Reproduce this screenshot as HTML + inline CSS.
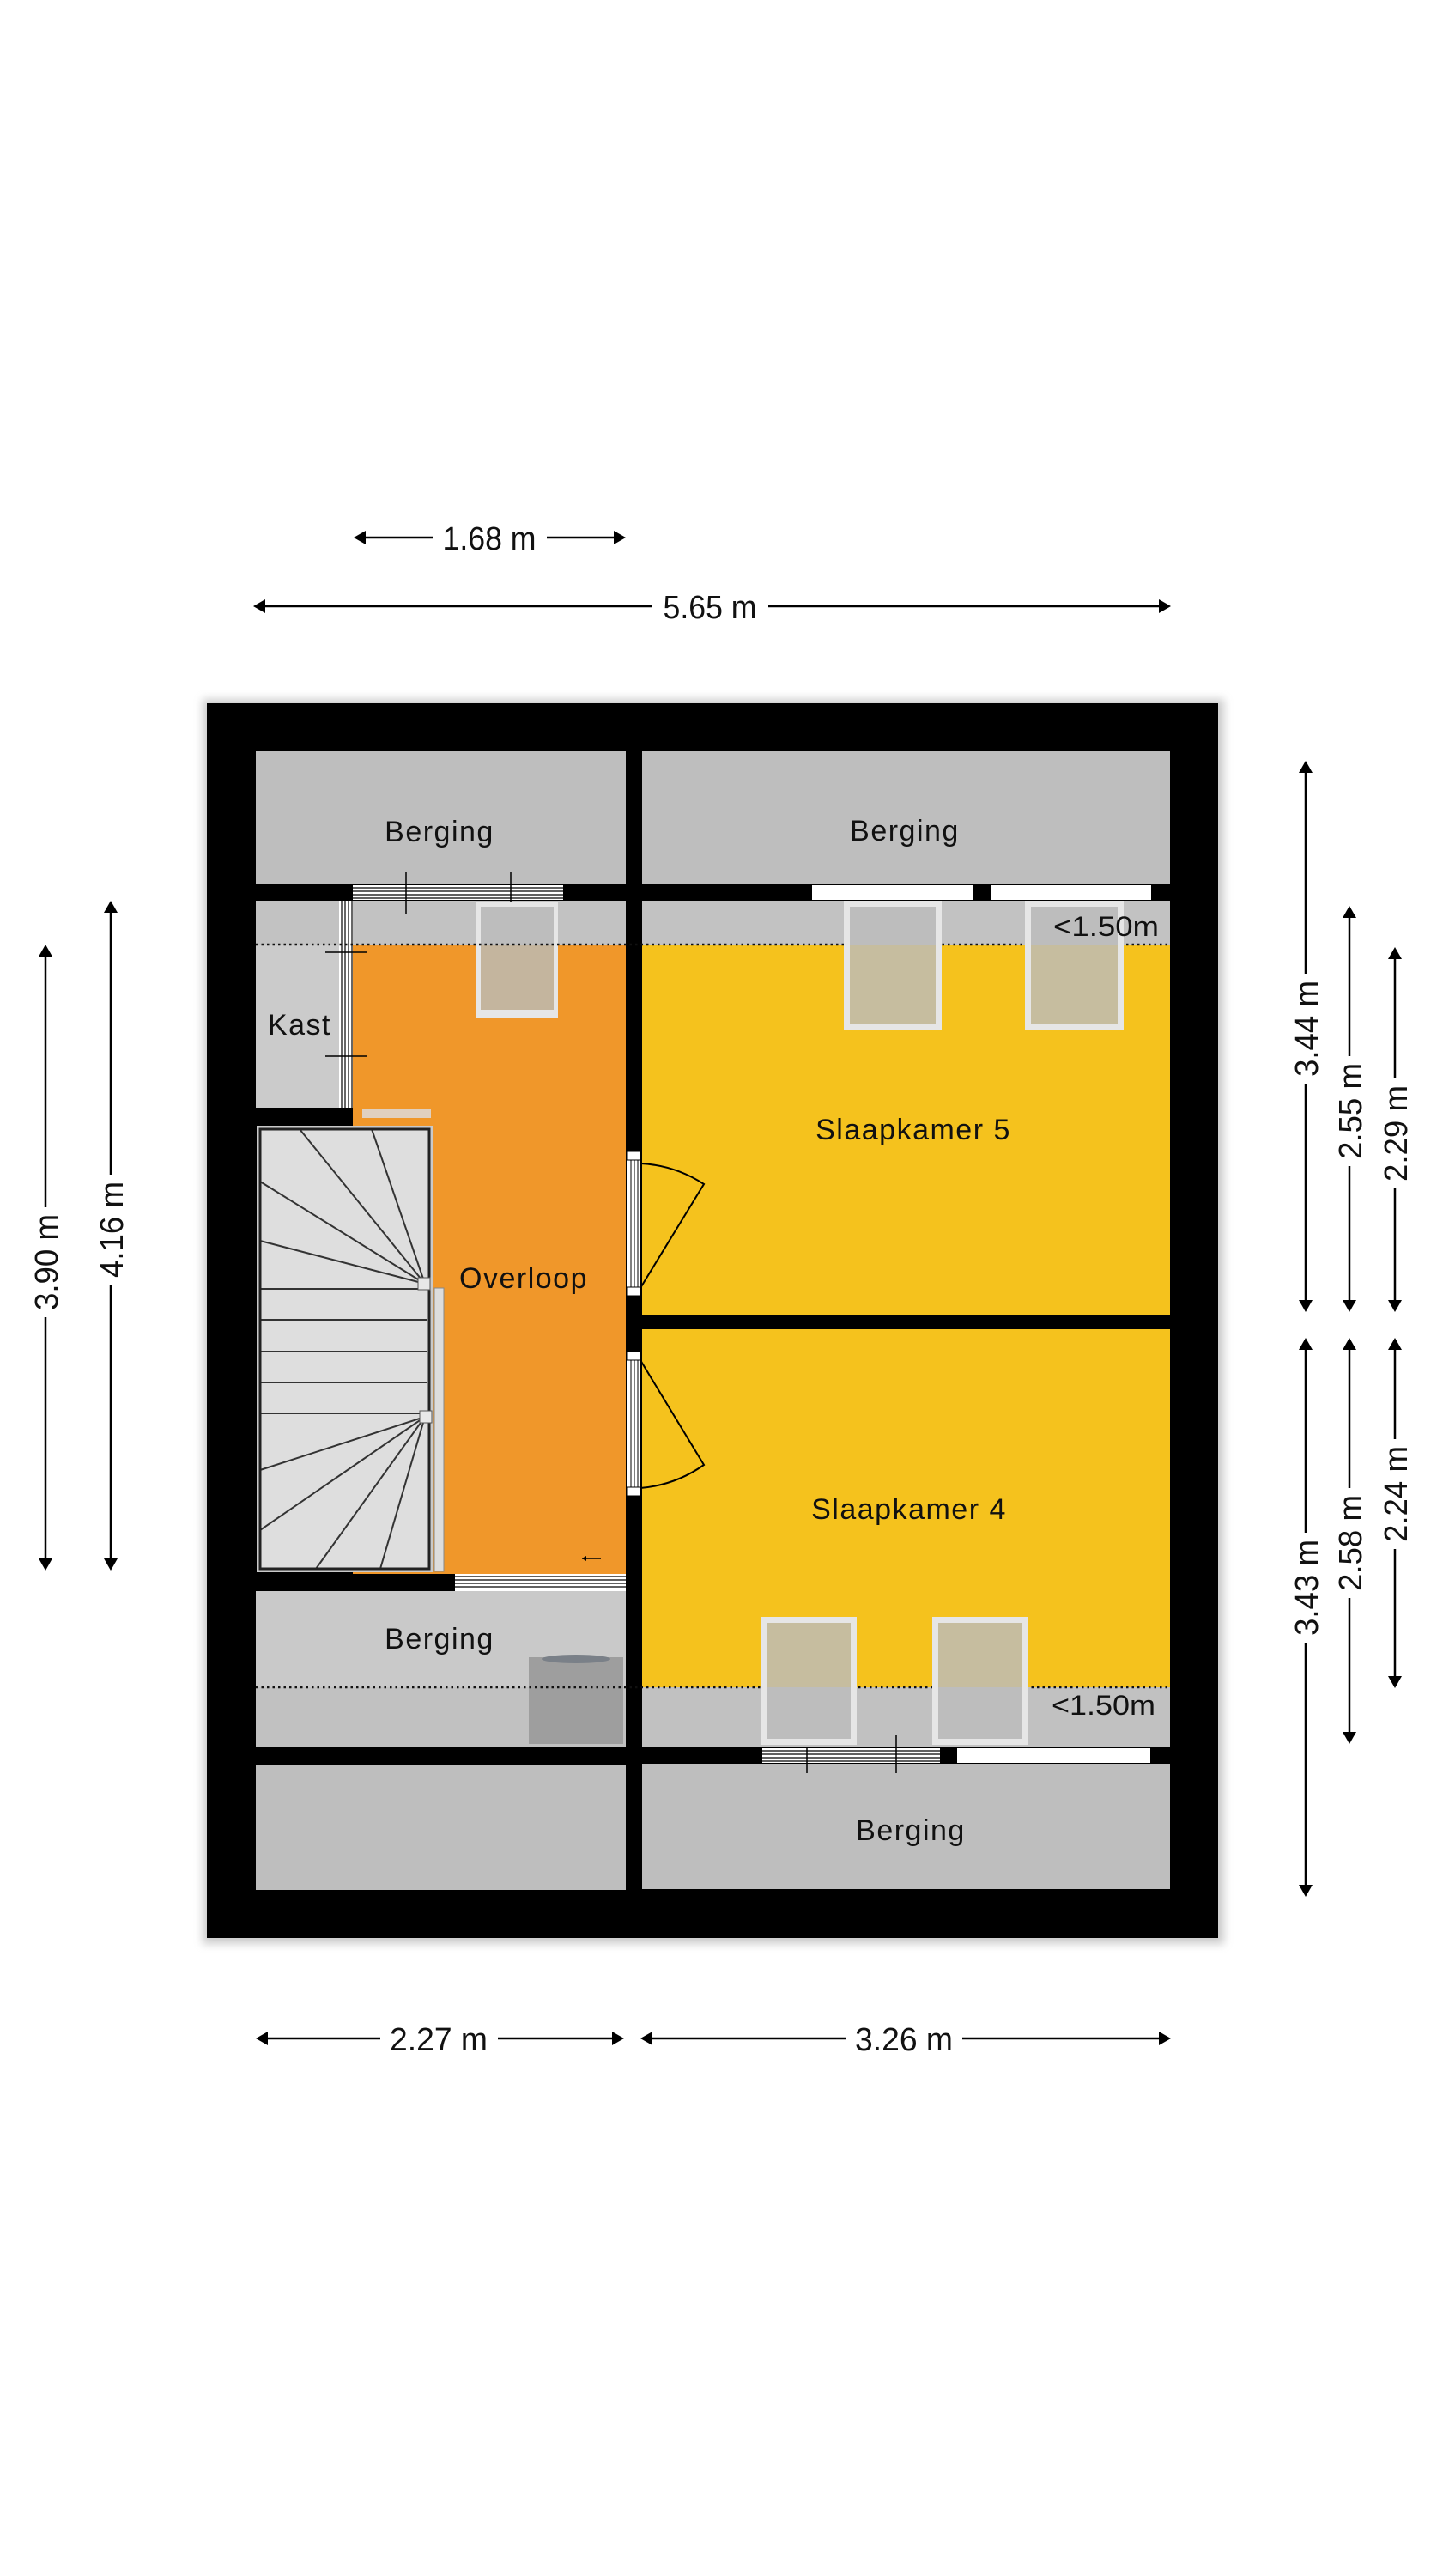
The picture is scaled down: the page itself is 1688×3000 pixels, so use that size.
<!DOCTYPE html>
<html><head><meta charset="utf-8"><style>
html,body{margin:0;padding:0;background:#fff;}
svg{display:block;}
text{font-family:"Liberation Sans",sans-serif;fill:#111;}
</style></head><body>
<svg width="1688" height="3000" viewBox="0 0 1688 3000" xmlns="http://www.w3.org/2000/svg">
<defs>
<filter id="sh" x="-5%" y="-5%" width="110%" height="110%"><feGaussianBlur stdDeviation="5"/></filter>
</defs>
<rect width="1688" height="3000" fill="#fff"/>
<rect x="236" y="814" width="1190" height="1450" fill="#aaa" filter="url(#sh)" opacity="0.6"/>
<rect x="241" y="819" width="1178" height="1438" fill="#000"/>
<rect x="298" y="875" width="431" height="155" fill="#bebebe"/>
<rect x="748" y="875" width="615" height="155" fill="#bebebe"/>
<rect x="298" y="1049" width="431" height="51" fill="#c2c2c2"/>
<rect x="298" y="1100" width="97" height="190" fill="#cbcbcb"/>
<rect x="411" y="1100" width="318" height="733" fill="#f0972a"/>
<rect x="395" y="1049" width="16" height="241" fill="#fff"/>
<line x1="398" y1="1049" x2="398" y2="1290" stroke="#000" stroke-width="1.2"/>
<line x1="402" y1="1049" x2="402" y2="1290" stroke="#000" stroke-width="1.2"/>
<line x1="406" y1="1049" x2="406" y2="1290" stroke="#000" stroke-width="1.2"/>
<line x1="410" y1="1049" x2="410" y2="1290" stroke="#000" stroke-width="1.2"/>
<line x1="379" y1="1109" x2="428" y2="1109" stroke="#000" stroke-width="1.5"/>
<line x1="379" y1="1230" x2="428" y2="1230" stroke="#000" stroke-width="1.5"/>
<rect x="298" y="1290" width="113" height="20" fill="#000"/>
<rect x="411" y="1031" width="245" height="17" fill="#fff"/>
<g stroke="#000" stroke-width="1.2"><line x1="411" y1="1034" x2="656" y2="1034"/><line x1="411" y1="1038" x2="656" y2="1038"/><line x1="411" y1="1042" x2="656" y2="1042"/><line x1="411" y1="1046" x2="656" y2="1046"/></g>
<line x1="473" y1="1015" x2="473" y2="1064" stroke="#000" stroke-width="1.5"/>
<line x1="595" y1="1015" x2="595" y2="1064" stroke="#000" stroke-width="1.5"/>
<rect x="555" y="1050" width="95" height="135" fill="#e6e6e6"/>
<rect x="560" y="1056" width="85" height="44" fill="#bdbdbd"/>
<rect x="560" y="1100" width="85" height="76" fill="#c4b59e"/>
<rect x="299" y="1311" width="205" height="520" fill="#c9c9c9"/>
<rect x="303" y="1315" width="197" height="512" fill="#dedede"/>
<g stroke="#333" stroke-width="2" fill="none">
<line x1="495" y1="1495" x2="349" y2="1315"/>
<line x1="495" y1="1495" x2="433" y2="1315"/>
<line x1="495" y1="1495" x2="303" y2="1376"/>
<line x1="495" y1="1495" x2="303" y2="1445"/>
<line x1="303" y1="1501" x2="498" y2="1501"/>
<line x1="303" y1="1537" x2="498" y2="1537"/>
<line x1="303" y1="1574" x2="498" y2="1574"/>
<line x1="303" y1="1610" x2="498" y2="1610"/>
<line x1="303" y1="1646" x2="498" y2="1646"/>
<line x1="495" y1="1650" x2="303" y2="1712"/>
<line x1="495" y1="1650" x2="303" y2="1782"/>
<line x1="495" y1="1650" x2="368" y2="1827"/>
<line x1="495" y1="1650" x2="443" y2="1827"/>
</g>
<rect x="303" y="1315" width="197" height="512" fill="none" stroke="#222" stroke-width="3"/>
<rect x="487" y="1488" width="14" height="14" fill="#e8e8e8" stroke="#555"/>
<rect x="489" y="1643" width="14" height="14" fill="#e8e8e8" stroke="#555"/>
<rect x="506" y="1500" width="11" height="330" fill="#ddd" stroke="#888"/>
<rect x="422" y="1292" width="80" height="10" fill="#e0d0c0"/>
<rect x="298" y="1833" width="232" height="20" fill="#000"/>
<rect x="530" y="1833" width="199" height="20" fill="#fff"/>
<g stroke="#000" stroke-width="1.2"><line x1="530" y1="1836" x2="729" y2="1836"/><line x1="530" y1="1840" x2="729" y2="1840"/><line x1="530" y1="1844" x2="729" y2="1844"/><line x1="530" y1="1848" x2="729" y2="1848"/></g>
<line x1="678" y1="1815" x2="700" y2="1815" stroke="#000" stroke-width="1.5"/>
<path d="M678 1815 l5 -3 v6 z" fill="#000"/>
<rect x="298" y="1853" width="431" height="112" fill="#c9c9c9"/>
<rect x="298" y="1965" width="431" height="69" fill="#c1c1c1"/>
<rect x="616" y="1930" width="110" height="101" fill="#9e9e9e"/>
<ellipse cx="671" cy="1932" rx="40" ry="5" fill="#7a8088"/>
<rect x="298" y="2055" width="431" height="146" fill="#bebebe"/>
<rect x="748" y="1049" width="615" height="51" fill="#c2c2c2"/>
<rect x="748" y="1100" width="615" height="431" fill="#f5c21d"/>
<rect x="748" y="1548" width="615" height="417" fill="#f5c21d"/>
<rect x="748" y="1965" width="615" height="70" fill="#c1c1c1"/>
<rect x="748" y="2054" width="615" height="146" fill="#bebebe"/>
<line x1="298" y1="1100" x2="1363" y2="1100" stroke="#111" stroke-width="2.5" stroke-dasharray="2.5 4"/>
<line x1="298" y1="1965" x2="1363" y2="1965" stroke="#111" stroke-width="2.5" stroke-dasharray="2.5 4"/>
<rect x="946" y="1031" width="188" height="17" fill="#fff"/>
<rect x="1154" y="1031" width="187" height="17" fill="#fff"/>
<rect x="983" y="1049" width="114" height="151" fill="#e6e6e6"/>
<rect x="990" y="1056" width="100" height="44" fill="#bdbdbd"/>
<rect x="990" y="1100" width="100" height="93" fill="#c6bd9f"/>
<rect x="1194" y="1049" width="115" height="151" fill="#e6e6e6"/>
<rect x="1201" y="1056" width="101" height="44" fill="#bdbdbd"/>
<rect x="1201" y="1100" width="101" height="93" fill="#c6bd9f"/>
<rect x="886" y="1883" width="112" height="149" fill="#e6e6e6"/>
<rect x="893" y="1890" width="98" height="75" fill="#c6bd9f"/>
<rect x="893" y="1965" width="98" height="60" fill="#bdbdbd"/>
<rect x="1086" y="1883" width="112" height="149" fill="#e6e6e6"/>
<rect x="1093" y="1890" width="98" height="75" fill="#c6bd9f"/>
<rect x="1093" y="1965" width="98" height="60" fill="#bdbdbd"/>
<rect x="888" y="2036" width="207" height="17" fill="#fff"/>
<g stroke="#000" stroke-width="1.2"><line x1="888" y1="2039" x2="1095" y2="2039"/><line x1="888" y1="2043" x2="1095" y2="2043"/><line x1="888" y1="2047" x2="1095" y2="2047"/><line x1="888" y1="2051" x2="1095" y2="2051"/></g>
<line x1="940" y1="2035" x2="940" y2="2065" stroke="#000" stroke-width="1.5"/>
<line x1="1044" y1="2020" x2="1044" y2="2065" stroke="#000" stroke-width="1.5"/>
<rect x="1115" y="2036" width="225" height="17" fill="#fff"/>
<rect x="731" y="1341" width="15" height="168" fill="#fff"/>
<g stroke="#000" stroke-width="1"><line x1="735" y1="1351" x2="735" y2="1499"/><line x1="739" y1="1351" x2="739" y2="1499"/><line x1="743" y1="1351" x2="743" y2="1499"/></g>
<rect x="731" y="1341" width="15" height="10" fill="#fff" stroke="#000" stroke-width="1"/>
<rect x="731" y="1499" width="15" height="10" fill="#fff" stroke="#000" stroke-width="1"/>
<path d="M746 1355 A150 150 0 0 1 820 1379 L746 1500" fill="none" stroke="#000" stroke-width="2"/>
<rect x="731" y="1574" width="15" height="168" fill="#fff"/>
<g stroke="#000" stroke-width="1"><line x1="735" y1="1584" x2="735" y2="1732"/><line x1="739" y1="1584" x2="739" y2="1732"/><line x1="743" y1="1584" x2="743" y2="1732"/></g>
<rect x="731" y="1574" width="15" height="10" fill="#fff" stroke="#000" stroke-width="1"/>
<rect x="731" y="1732" width="15" height="10" fill="#fff" stroke="#000" stroke-width="1"/>
<path d="M746 1584 L820 1706 A150 150 0 0 1 746 1733" fill="none" stroke="#000" stroke-width="2"/>
<g font-size="34" letter-spacing="1.5" text-anchor="middle">
<text x="512" y="980">Berging</text>
<text x="1054" y="979">Berging</text>
<text x="349" y="1205">Kast</text>
<text x="610" y="1500">Overloop</text>
<text x="1064" y="1327">Slaapkamer 5</text>
<text x="1059" y="1769">Slaapkamer 4</text>
<text x="512" y="1920">Berging</text>
<text x="1061" y="2143">Berging</text>
</g>
<text x="1227" y="1090" font-size="32" textLength="123" lengthAdjust="spacingAndGlyphs">&lt;1.50m</text>
<text x="1225" y="1997" font-size="32" textLength="121" lengthAdjust="spacingAndGlyphs">&lt;1.50m</text>
<g stroke="#000" stroke-width="2.5" fill="none">
<line x1="420" y1="626" x2="504" y2="626"/><line x1="637" y1="626" x2="721" y2="626"/>
<line x1="303" y1="706" x2="760" y2="706"/><line x1="895" y1="706" x2="1356" y2="706"/>
<line x1="306" y1="2374" x2="443" y2="2374"/><line x1="580" y1="2374" x2="719" y2="2374"/>
<line x1="754" y1="2374" x2="985" y2="2374"/><line x1="1121" y1="2374" x2="1356" y2="2374"/>
<line x1="53" y1="1108" x2="53" y2="1406"/><line x1="53" y1="1534" x2="53" y2="1821"/>
<line x1="129" y1="1057" x2="129" y2="1368"/><line x1="129" y1="1496" x2="129" y2="1821"/>
<line x1="1521" y1="894" x2="1521" y2="1134"/><line x1="1521" y1="1262" x2="1521" y2="1520"/>
<line x1="1521" y1="1566" x2="1521" y2="1785"/><line x1="1521" y1="1913" x2="1521" y2="2201"/>
<line x1="1572" y1="1063" x2="1572" y2="1230"/><line x1="1572" y1="1358" x2="1572" y2="1520"/>
<line x1="1572" y1="1566" x2="1572" y2="1733"/><line x1="1572" y1="1861" x2="1572" y2="2023"/>
<line x1="1625" y1="1111" x2="1625" y2="1256"/><line x1="1625" y1="1384" x2="1625" y2="1520"/>
<line x1="1625" y1="1566" x2="1625" y2="1676"/><line x1="1625" y1="1804" x2="1625" y2="1958"/>
</g>
<g fill="#000">
<path d="M412 626 l14 -8 v16z"/><path d="M729 626 l-14 -8 v16z"/>
<path d="M295 706 l14 -8 v16z"/><path d="M1364 706 l-14 -8 v16z"/>
<path d="M298 2374 l14 -8 v16z"/><path d="M727 2374 l-14 -8 v16z"/>
<path d="M746 2374 l14 -8 v16z"/><path d="M1364 2374 l-14 -8 v16z"/>
<path d="M53 1100 l-8 14 h16z"/><path d="M53 1829 l-8 -14 h16z"/>
<path d="M129 1049 l-8 14 h16z"/><path d="M129 1829 l-8 -14 h16z"/>
<path d="M1521 886 l-8 14 h16z"/><path d="M1521 1528 l-8 -14 h16z"/>
<path d="M1521 1558 l-8 14 h16z"/><path d="M1521 2209 l-8 -14 h16z"/>
<path d="M1572 1055 l-8 14 h16z"/><path d="M1572 1528 l-8 -14 h16z"/>
<path d="M1572 1558 l-8 14 h16z"/><path d="M1572 2031 l-8 -14 h16z"/>
<path d="M1625 1103 l-8 14 h16z"/><path d="M1625 1528 l-8 -14 h16z"/>
<path d="M1625 1558 l-8 14 h16z"/><path d="M1625 1966 l-8 -14 h16z"/>
</g>
<g font-size="38" text-anchor="middle">
<text x="570" y="640" textLength="109" lengthAdjust="spacingAndGlyphs">1.68 m</text>
<text x="827" y="720" textLength="109" lengthAdjust="spacingAndGlyphs">5.65 m</text>
<text x="511" y="2388" textLength="114" lengthAdjust="spacingAndGlyphs">2.27 m</text>
<text x="1053" y="2388" textLength="114" lengthAdjust="spacingAndGlyphs">3.26 m</text>
<text transform="translate(67 1470) rotate(-90)" textLength="112" lengthAdjust="spacingAndGlyphs">3.90 m</text>
<text transform="translate(143 1432) rotate(-90)" textLength="112" lengthAdjust="spacingAndGlyphs">4.16 m</text>
<text transform="translate(1535 1198) rotate(-90)" textLength="112" lengthAdjust="spacingAndGlyphs">3.44 m</text>
<text transform="translate(1586 1294) rotate(-90)" textLength="112" lengthAdjust="spacingAndGlyphs">2.55 m</text>
<text transform="translate(1639 1320) rotate(-90)" textLength="112" lengthAdjust="spacingAndGlyphs">2.29 m</text>
<text transform="translate(1535 1849) rotate(-90)" textLength="112" lengthAdjust="spacingAndGlyphs">3.43 m</text>
<text transform="translate(1586 1797) rotate(-90)" textLength="112" lengthAdjust="spacingAndGlyphs">2.58 m</text>
<text transform="translate(1639 1740) rotate(-90)" textLength="112" lengthAdjust="spacingAndGlyphs">2.24 m</text>
</g>
</svg>
</body></html>
